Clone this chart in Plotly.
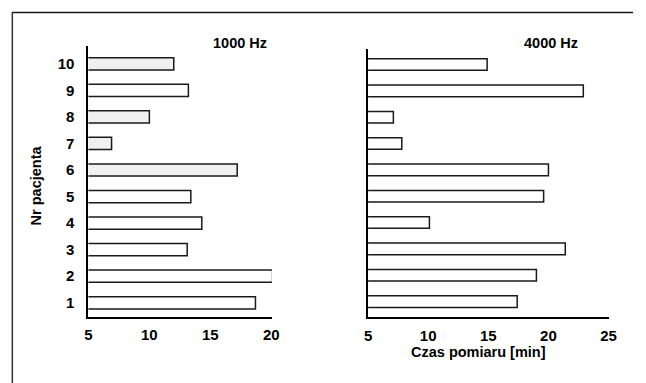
import plotly.graph_objects as go

patients = [1, 2, 3, 4, 5, 6, 7, 8, 9, 10]
tick_labels = ["1", "2", "3", "4", "5", "6", "7", "8", "9", "10"]
time_1000 = [18.7, 20.1, 13.1, 14.3, 13.4, 17.2, 6.9, 10.0, 13.2, 12.0]
time_4000 = [17.4, 19.0, 21.4, 10.1, 19.6, 20.0, 7.8, 7.1, 22.9, 14.9]
fill_1000 = ["white", "white", "white", "white", "white", "#f0f0f0", "#f0f0f0", "#f0f0f0", "white", "#f0f0f0"]
x_ticks_1000 = [5, 10, 15, 20]
x_ticks_4000 = [5, 10, 15, 20, 25]

W, H = 646, 383
FONT = "Liberation Sans, Arial, sans-serif"

def px_x(p):
    return p / W

def px_y(p):
    return 1 - p / H

fig = go.Figure()
fig.add_trace(go.Bar(
    y=patients, x=time_1000, orientation="h", width=0.46,
    marker=dict(color=fill_1000, line=dict(color="#1a1a1a", width=1.5)),
    xaxis="x", yaxis="y", showlegend=False, hoverinfo="x+y",
))
fig.add_trace(go.Bar(
    y=patients, x=time_4000, orientation="h", width=0.44,
    marker=dict(color="white", line=dict(color="#1a1a1a", width=1.5)),
    xaxis="x2", yaxis="y2", showlegend=False, hoverinfo="x+y",
))

tickfont = dict(family=FONT, size=15, color="black", weight="bold")
titlefont = dict(family=FONT, size=14.5, color="black", weight="bold")

def ann(text, x, y, angle=0):
    return dict(text=text, x=px_x(x), y=px_y(y), xref="paper", yref="paper",
                xanchor="center", yanchor="middle", showarrow=False,
                textangle=angle, font=titlefont)

fig.update_layout(
    width=W, height=H,
    margin=dict(l=0, r=0, t=0, b=0),
    paper_bgcolor="white", plot_bgcolor="white",
    xaxis=dict(domain=[px_x(86), px_x(273)], range=[5, 20.05],
               tickvals=x_ticks_1000, ticktext=[str(v) for v in x_ticks_1000],
               showgrid=False, zeroline=False, showline=True, linecolor="black", linewidth=1.5,
               ticks="", tickfont=tickfont, ticklabelstandoff=4, anchor="y"),
    yaxis=dict(domain=[px_y(316.5), px_y(46)], range=[0.483, 10.67],
               tickvals=patients, ticktext=tick_labels,
               showgrid=False, zeroline=False, showline=True, linecolor="black", linewidth=2,
               ticks="", tickfont=tickfont, ticklabelstandoff=9, anchor="x"),
    xaxis2=dict(domain=[px_x(371), px_x(616)], range=[5, 25],
                tickvals=x_ticks_4000, ticktext=[str(v) for v in x_ticks_4000],
                showgrid=False, zeroline=False, showline=True, linecolor="black", linewidth=1.5,
                ticks="", tickfont=tickfont, ticklabelstandoff=4, anchor="y2"),
    yaxis2=dict(domain=[px_y(317), px_y(49)], range=[0.415, 10.59],
                tickvals=patients, showticklabels=False,
                showgrid=False, zeroline=False, showline=True, linecolor="black", linewidth=2,
                ticks="", anchor="x2"),
    annotations=[
        ann("1000 Hz", 240, 43),
        ann("4000 Hz", 557, 43),
        ann("Nr pacjenta", 33, 185, -90),
        ann("Czas pomiaru [min]", 483, 352),
    ],
    shapes=[
        dict(type="line", xref="paper", yref="paper", x0=px_x(8), x1=px_x(641),
             y0=px_y(12.5), y1=px_y(12.5), line=dict(color="#1a1a1a", width=1.5)),
        dict(type="line", xref="paper", yref="paper", x0=px_x(8.5), x1=px_x(8.5),
             y0=px_y(12.5), y1=0, line=dict(color="#333333", width=1.5)),
    ],
)

fig.write_html("out.html")
